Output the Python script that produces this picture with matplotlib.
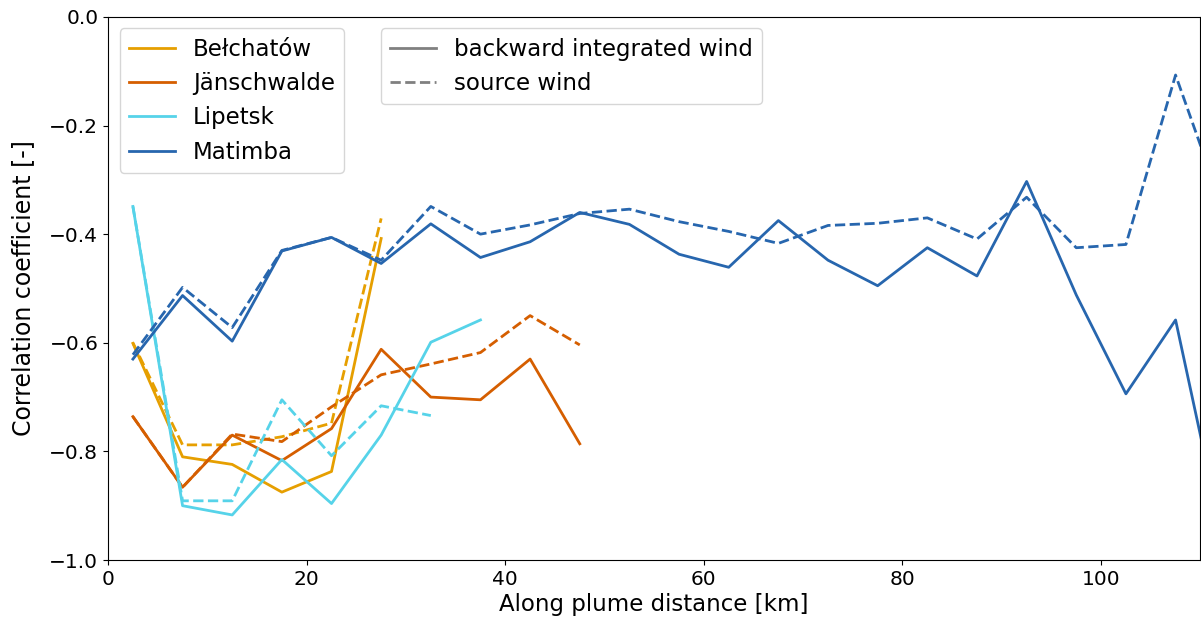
import matplotlib
matplotlib.use("Agg")
import matplotlib.pyplot as plt
from matplotlib.lines import Line2D

# bin centres along the plume [km]
dist = [2.5, 7.5, 12.5, 17.5, 22.5, 27.5, 32.5, 37.5, 42.5, 47.5,
        52.5, 57.5, 62.5, 67.5, 72.5, 77.5, 82.5, 87.5, 92.5, 97.5,
        102.5, 107.5, 112.5]

belchatow_bw = [-0.601, -0.810, -0.824, -0.875, -0.837, -0.408]
belchatow_src = [-0.600, -0.788, -0.788, -0.773, -0.748, -0.371]

janschwalde_bw = [-0.736, -0.866, -0.770, -0.817, -0.758, -0.612, -0.700, -0.705, -0.630, -0.786]
janschwalde_src = [-0.736, -0.866, -0.768, -0.782, -0.718, -0.659, -0.639, -0.618, -0.550, -0.604]

lipetsk_bw = [-0.349, -0.900, -0.917, -0.815, -0.896, -0.770, -0.599, -0.558]
lipetsk_src = [-0.349, -0.891, -0.891, -0.705, -0.808, -0.716, -0.734]

matimba_bw = [-0.630, -0.513, -0.597, -0.431, -0.406, -0.454, -0.381, -0.443, -0.414, -0.360,
              -0.382, -0.437, -0.461, -0.375, -0.448, -0.495, -0.425, -0.477, -0.303, -0.512,
              -0.694, -0.558, -0.982]
matimba_src = [-0.622, -0.498, -0.572, -0.430, -0.406, -0.448, -0.349, -0.400, -0.383, -0.362,
               -0.354, -0.377, -0.395, -0.417, -0.384, -0.380, -0.370, -0.409, -0.332, -0.425,
               -0.419, -0.107, -0.365]

stations = ["Bełchatów", "Jänschwalde", "Lipetsk", "Matimba"]
colors = ["#E69F00", "#D55E00", "#56D3E9", "#2766AE"]
backward = [belchatow_bw, janschwalde_bw, lipetsk_bw, matimba_bw]
source = [belchatow_src, janschwalde_src, lipetsk_src, matimba_src]

plt.rcParams["font.size"] = 14

fig, ax = plt.subplots(figsize=(12.01, 6.26), dpi=100)
fig.subplots_adjust(left=0.09, right=0.9995, top=0.973, bottom=0.1054)

for name, c, bw, src in zip(stations, colors, backward, source):
    ax.plot(dist[:len(bw)], bw, color=c, lw=2, label=name)
    ax.plot(dist[:len(src)], src, color=c, lw=2, ls="--")

ax.set_xlim(0, 110)
ax.set_ylim(-1.0, 0.0)
ax.tick_params(labelsize=14.5)
ax.set_xlabel("Along plume distance [km]", fontsize=16.5, labelpad=3)
ax.set_ylabel("Correlation coefficient [-]", fontsize=17, labelpad=10)

leg1 = ax.legend(loc="upper left", fontsize=16.5)
ax.add_artist(leg1)

style_handles = [Line2D([], [], color="gray", lw=2, ls="-"),
                 Line2D([], [], color="gray", lw=2, ls="--")]
ax.legend(style_handles, ["backward integrated wind", "source wind"],
          loc="upper left", bbox_to_anchor=(0.239, 1.0), fontsize=16.5)

fig.savefig("out.png", dpi=100)
